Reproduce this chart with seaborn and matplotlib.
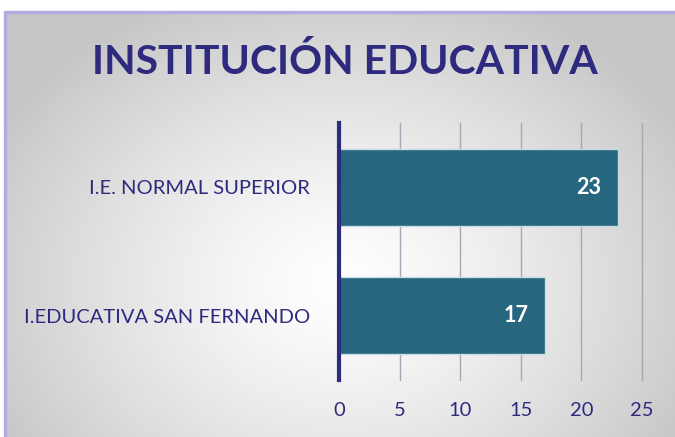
import matplotlib
matplotlib.use("Agg")
import matplotlib.pyplot as plt
import seaborn as sns
import numpy as np
import pandas as pd

# Data
categories = ["I.E. NORMAL SUPERIOR", "I.EDUCATIVA SAN FERNANDO"]
values = [23, 17]
x_ticks = [0, 5, 10, 15, 20, 25]

df = pd.DataFrame({"Institucion": categories, "Cantidad": values})

navy = "#2e2a7e"
bar_color = "#27667f"

sns.set_style("white")
plt.rcParams["font.family"] = ["Lato", "DejaVu Sans"]

fig = plt.figure(figsize=(6.75, 4.37), dpi=100)
fig.patch.set_facecolor("white")

# radial gradient background of the chart frame
bg = fig.add_axes([5 / 675, 0, 1 - 5 / 675, 1 - 12 / 437], zorder=0)
ny, nx = 425, 670
yy, xx = np.mgrid[0:ny, 0:nx]
cx, cy = 335, 270
r = np.sqrt(((xx - cx) / 390) ** 2 + ((yy - cy) / 310) ** 2)
shade = 1 - 0.22 * np.clip(r, 0, 1) ** 1.3
img = np.dstack([shade, shade, shade])
bg.imshow(img, aspect="auto", extent=[0, 1, 0, 1], origin="upper")
bg.set_xlim(0, 1)
bg.set_ylim(0, 1)
bg.axis("off")
bg.plot([0, 0], [0, 1], color="#b3acdf", lw=2.5, clip_on=False)
bg.plot([0, 1], [1, 1], color="#b3acdf", lw=2.5, clip_on=False)

ax = fig.add_axes([339 / 675, 1 - 380 / 437, (642 - 339) / 675, (380 - 123) / 437], zorder=1)
ax.patch.set_alpha(0)
sns.barplot(data=df, y="Institucion", x="Cantidad", orient="h", color=bar_color,
            width=0.6, saturation=1, edgecolor="#c9dbe3", linewidth=1, ax=ax, zorder=3)

ax.set_xlim(0, 25)
ax.set_xticks(x_ticks)
ax.set_xticklabels([str(t) for t in x_ticks])
ax.grid(axis="x", color="#a6a6b4", lw=1, zorder=1)
ax.grid(axis="y", visible=False)
for gl in ax.xaxis.get_gridlines():
    gl.set_clip_on(False)
for s in ["top", "right", "bottom"]:
    ax.spines[s].set_visible(False)
ax.spines["left"].set_color(navy)
ax.spines["left"].set_linewidth(3)
ax.spines["left"].set_zorder(4)
ax.tick_params(axis="both", length=0, colors=navy, labelsize=14.5)
ax.tick_params(axis="x", pad=16, labelsize=14.5)
ax.tick_params(axis="y", pad=21)
ax.set_xlabel("")
ax.set_ylabel("")

ax.bar_label(ax.containers[0], labels=[str(v) for v in values], padding=-30,
             color="white", fontsize=15.5, fontweight="bold")

fig.text(345 / 675, 1 - 62 / 437, "INSTITUCIÓN EDUCATIVA", ha="center", va="center",
         fontsize=29.5, fontweight="bold", color=navy)

fig.savefig("out.png", dpi=100)
